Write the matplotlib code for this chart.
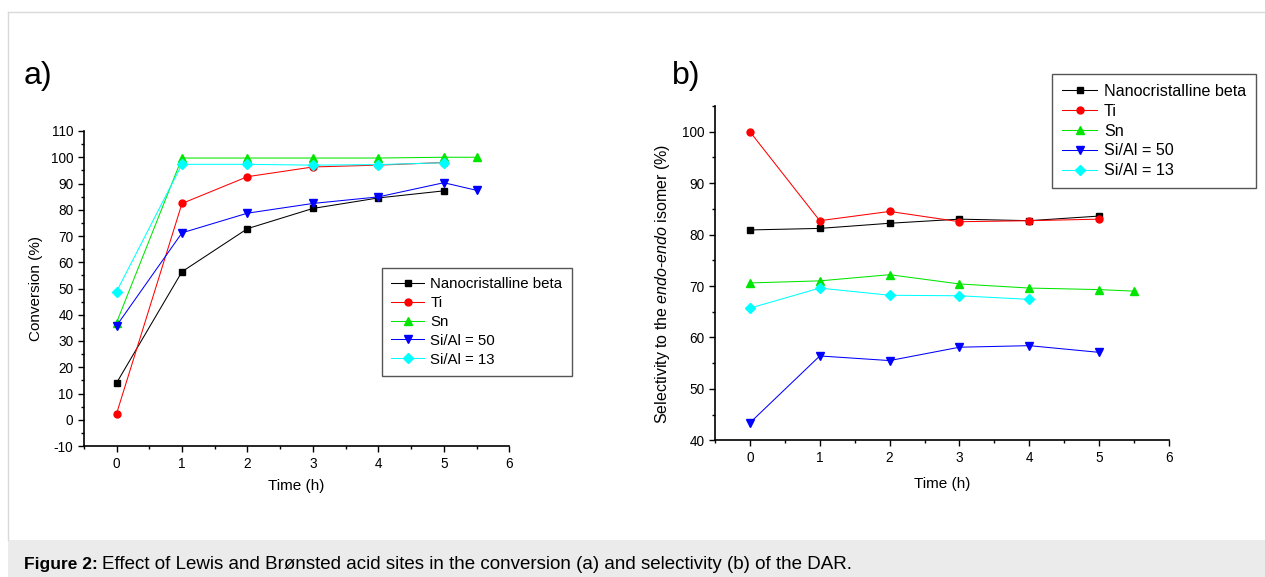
import matplotlib
matplotlib.use("Agg")
import matplotlib.pyplot as plt
from matplotlib.patches import Rectangle
from matplotlib.ticker import MultipleLocator

plt.rcParams["font.family"] = ["Liberation Sans", "DejaVu Sans"]
plt.rcParams["mathtext.fontset"] = "custom"
plt.rcParams["mathtext.rm"] = "Liberation Sans"
plt.rcParams["mathtext.it"] = "Liberation Sans:italic"
plt.rcParams["axes.unicode_minus"] = False

series_names = ["Nanocristalline beta", "Ti", "Sn", "Si/Al = 50", "Si/Al = 13"]

# (a) conversion (%)
conv_time = {
    "Nanocristalline beta": [0, 1, 2, 3, 4, 5],
    "Ti": [0, 1, 2, 3, 4, 5],
    "Sn": [0, 1, 2, 3, 4, 5, 5.5],
    "Si/Al = 50": [0, 1, 2, 3, 4, 5, 5.5],
    "Si/Al = 13": [0, 1, 2, 3, 4, 5],
}
conv_vals = {
    "Nanocristalline beta": [14.0, 56.4, 72.8, 80.5, 84.5, 87.2],
    "Ti": [2.3, 82.4, 92.6, 96.3, 97.0, 98.0],
    "Sn": [37.0, 99.7, 99.7, 99.7, 99.7, 100.0, 100.0],
    "Si/Al = 50": [35.8, 71.2, 78.7, 82.4, 84.9, 90.3, 87.4],
    "Si/Al = 13": [48.8, 97.3, 97.3, 97.0, 97.2, 97.9],
}

# (b) selectivity to endo-endo isomer (%)
sel_time = {
    "Nanocristalline beta": [0, 1, 2, 3, 4, 5],
    "Ti": [0, 1, 2, 3, 4, 5],
    "Sn": [0, 1, 2, 3, 4, 5, 5.5],
    "Si/Al = 50": [0, 1, 2, 3, 4, 5],
    "Si/Al = 13": [0, 1, 2, 3, 4],
}
sel_vals = {
    "Nanocristalline beta": [80.9, 81.2, 82.2, 83.0, 82.7, 83.6],
    "Ti": [100.0, 82.7, 84.5, 82.5, 82.7, 83.0],
    "Sn": [70.6, 71.0, 72.2, 70.4, 69.6, 69.3, 69.0],
    "Si/Al = 50": [43.4, 56.4, 55.5, 58.1, 58.4, 57.1],
    "Si/Al = 13": [65.7, 69.6, 68.2, 68.1, 67.4],
}

styles = {
    "Nanocristalline beta": dict(color="#000000", marker="s", ms=4.5),
    "Ti": dict(color="#ff0000", marker="o", ms=5),
    "Sn": dict(color="#00e600", marker="^", ms=6.2),
    "Si/Al = 50": dict(color="#0000ff", marker="v", ms=6.2),
    "Si/Al = 13": dict(color="#00ffff", marker="D", ms=4.8),
}

W, H = 1265, 577
fig = plt.figure(figsize=(W / 100, H / 100), dpi=100)

# page frame and caption band
fig.patches.append(Rectangle((8 / W, 0), 1 - 8 / W, 37 / H, transform=fig.transFigure,
                             facecolor="#ebebeb", edgecolor="none", zorder=0))
fig.add_artist(plt.Line2D([8 / W, 1], [1 - 12 / H, 1 - 12 / H], color="#d9d9d9", lw=1))
fig.add_artist(plt.Line2D([8 / W, 8 / W], [37 / H, 1 - 12 / H], color="#d9d9d9", lw=1))

fig.text(24 / W, 1 - 569 / H, "Figure 2:", fontsize=12.5, fontweight="bold", va="baseline")
fig.text(102 / W, 1 - 569 / H,
         "Effect of Lewis and Brønsted acid sites in the conversion (a) and selectivity (b) of the DAR.",
         fontsize=13.5, va="baseline")


def setup_axes(ax):
    for s in ("top", "right"):
        ax.spines[s].set_visible(False)
    for s in ("left", "bottom"):
        ax.spines[s].set_linewidth(1.2)
    ax.tick_params(which="major", direction="out", length=4.5, width=1.0, labelsize=9.8)
    ax.tick_params(which="minor", direction="out", length=2.5, width=1.0)
    ax.tick_params(axis="x", which="major", pad=3.5)
    ax.tick_params(axis="y", which="major", pad=3)
    ax.set_xlim(-0.5, 6)
    ax.xaxis.set_major_locator(MultipleLocator(1))
    ax.xaxis.set_minor_locator(MultipleLocator(0.5))


def draw(ax, times, vals):
    for name in series_names:
        st = styles[name]
        ax.plot(times[name], vals[name], color=st["color"], lw=0.75, marker=st["marker"],
                ms=st["ms"], mec=st["color"], mfc=st["color"], label=name)


def add_legend(ax, anchor, size, spacing):
    leg = ax.legend(loc="upper left", bbox_to_anchor=anchor, bbox_transform=fig.transFigure,
                    fontsize=size, frameon=True, fancybox=False, edgecolor="#555555",
                    framealpha=1, handlelength=2.2, labelspacing=spacing, borderpad=0.62,
                    handletextpad=0.4, borderaxespad=0)
    leg.get_frame().set_linewidth(1.0)


# panel a
ax_a = fig.add_axes([83.8 / W, 1 - 446 / H, (509.3 - 83.8) / W, (446 - 131) / H])
setup_axes(ax_a)
draw(ax_a, conv_time, conv_vals)
ax_a.set_ylim(-10, 110)
ax_a.yaxis.set_major_locator(MultipleLocator(10))
ax_a.yaxis.set_minor_locator(MultipleLocator(5))
ax_a.set_xlabel("Time (h)", fontsize=11, labelpad=6)
ax_a.set_ylabel("Conversion (%)", fontsize=11)
ax_a.yaxis.set_label_coords(-0.096, 0.5)
add_legend(ax_a, (382 / W, 1 - 268 / H), 10.8, 0.32)

# panel b
ax_b = fig.add_axes([715 / W, 1 - 440.3 / H, (1169 - 715) / W, (440.3 - 106) / H])
setup_axes(ax_b)
draw(ax_b, sel_time, sel_vals)
ax_b.set_ylim(40, 105)
ax_b.set_yticks([40, 50, 60, 70, 80, 90, 100])
ax_b.yaxis.set_minor_locator(MultipleLocator(5))
ax_b.set_xlabel("Time (h)", fontsize=11, labelpad=8)
ax_b.set_ylabel("Selectivity to the $\\mathit{endo}$-$\\mathit{endo}$ isomer (%)", fontsize=11.5)
ax_b.yaxis.set_label_coords(-0.095, 0.468)
add_legend(ax_b, (1052 / W, 1 - 74 / H), 11.6, 0.3)

fig.text(24 / W, 1 - 84 / H, "a)", fontsize=23, va="baseline")
fig.text(672 / W, 1 - 84 / H, "b)", fontsize=23, va="baseline")

fig.savefig("out.png", dpi=100, facecolor="white")
